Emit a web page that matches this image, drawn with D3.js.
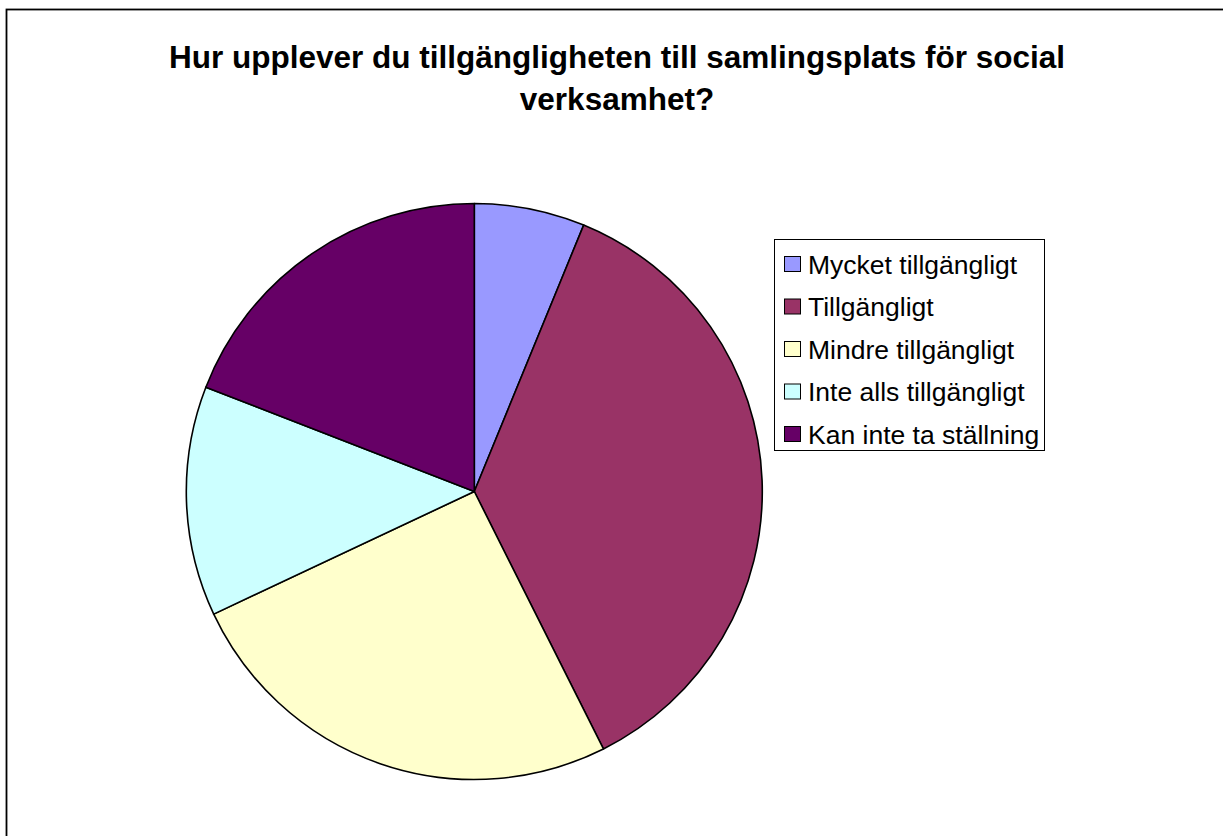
<!DOCTYPE html>
<html>
<head>
<meta charset="utf-8">
<script src="https://cdn.jsdelivr.net/npm/d3@7"></script>
<style>
  html, body { margin: 0; padding: 0; background: #fff; overflow: hidden; }
  text { font-family: "Liberation Sans", Arial, sans-serif; }
</style>
</head>
<body>
<div id="container"></div>
<script>
// data (share of answers, %)
var categories = ["Mycket tillgängligt", "Tillgängligt", "Mindre tillgängligt", "Inte alls tillgängligt", "Kan inte ta ställning"];
var values = [6.2, 36.4, 25.4, 12.9, 19.1];
var colors = ["#9999FF", "#993366", "#FFFFCC", "#CCFFFF", "#660066"];
var titleLines = ["Hur upplever du tillgängligheten till samlingsplats för social", "verksamhet?"];

const width = 1223;
const height = 836;

const svg = d3.select("div#container").append("svg")
    .attr("width", width)
    .attr("height", height);

// chart frame (runs off the right and bottom edge)
svg.append("rect")
    .attr("x", 6.5)
    .attr("y", 9.5)
    .attr("width", width + 20)
    .attr("height", height + 20)
    .attr("fill", "#fff")
    .attr("stroke", "#000")
    .attr("stroke-width", 1.8);

//----------------------------TITLE-----------------------------//
svg.append("g")
    .selectAll("text")
    .data(titleLines)
    .enter()
    .append("text")
    .attr("x", 617)
    .attr("y", function(d, i) { return 68 + i * 42; })
    .attr("text-anchor", "middle")
    .style("font-weight", "bold")
    .style("font-size", "31.5px")
    .text(function(d) { return d; });

//-----------------------------PIE------------------------------//
const cx = 474.3, cy = 491.5, radius = 288;

const pie = d3.pie().sort(null).value(function(d) { return d; });
const arc = d3.arc().innerRadius(0).outerRadius(radius);

const slices = svg.append("g")
    .attr("transform", "translate(" + cx + "," + cy + ")");

slices.selectAll("path")
    .data(pie(values))
    .enter()
    .append("path")
    .attr("d", arc)
    .attr("fill", function(d, i) { return colors[i]; })
    .attr("stroke", "#000")
    .attr("stroke-width", 1.6)
    .attr("stroke-linejoin", "round");

//----------------------------LEGEND----------------------------//
const legendBox = {x: 774.5, y: 239.5, w: 270, h: 211};

svg.append("rect")
    .attr("x", legendBox.x)
    .attr("y", legendBox.y)
    .attr("width", legendBox.w)
    .attr("height", legendBox.h)
    .attr("fill", "#fff")
    .attr("stroke", "#000")
    .attr("stroke-width", 1);

const rowScale = d3.scalePoint()
    .domain(categories)
    .range([264, 434]);

const items = svg.append("g")
    .selectAll("g")
    .data(categories)
    .enter()
    .append("g")
    .attr("transform", function(d) { return "translate(784," + rowScale(d) + ")"; });

items.append("rect")
    .attr("x", 0.5)
    .attr("y", -7.5)
    .attr("width", 16)
    .attr("height", 15)
    .attr("fill", function(d, i) { return colors[i]; })
    .attr("stroke", "#000")
    .attr("stroke-width", 1);

items.append("text")
    .attr("x", 24)
    .attr("y", 9.5)
    .style("font-size", "26.5px")
    .text(function(d) { return d; });
</script>
</body>
</html>
